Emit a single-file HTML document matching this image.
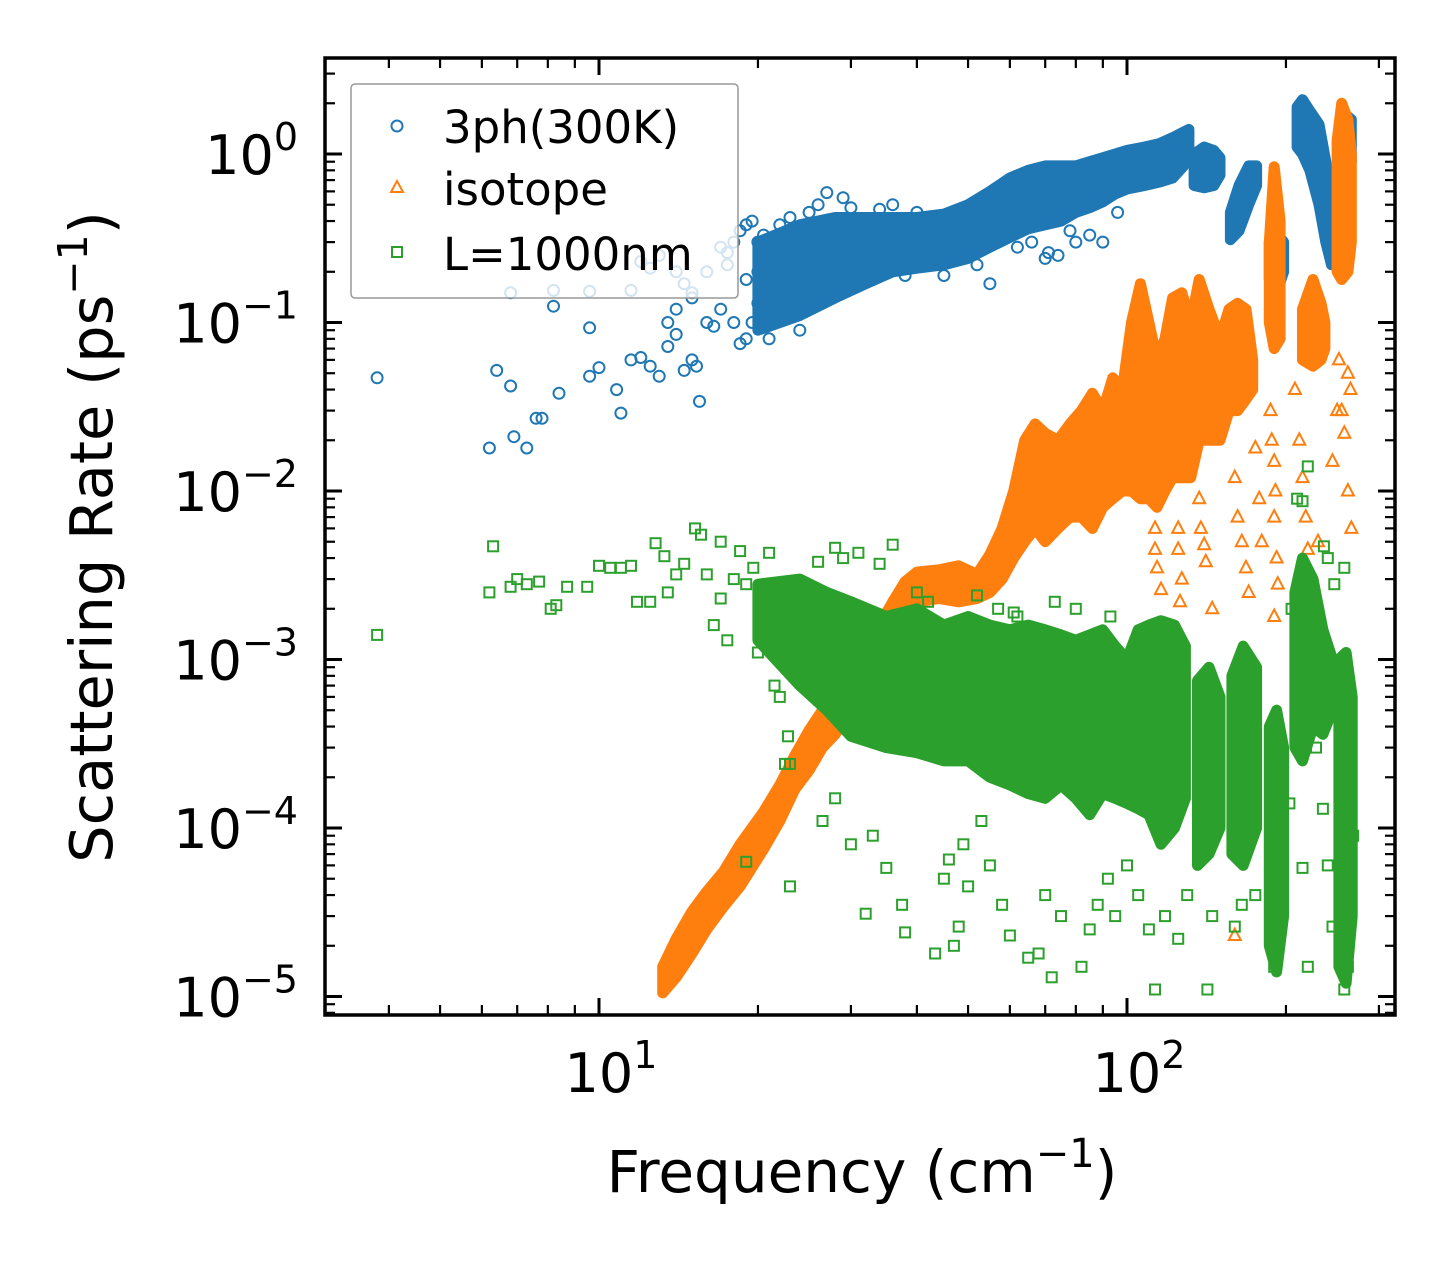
<!DOCTYPE html>
<html><head><meta charset="utf-8"><style>
html,body{margin:0;padding:0;background:#fff}
svg{display:block;font-family:"DejaVu Sans","Liberation Sans",sans-serif}
</style></head><body>
<svg id="chart" width="1455" height="1265" viewBox="0 0 1455 1265" xmlns="http://www.w3.org/2000/svg">
<defs><clipPath id="plotclip"><rect x="325" y="58" width="1070" height="957"/></clipPath></defs>
<rect x="0" y="0" width="1455" height="1265" fill="#fff"/>
<g id="series" clip-path="url(#plotclip)"></g>
<g id="axes"></g>
<g id="legend">
  <rect x="351" y="84" width="387" height="214" rx="4" fill="rgba(255,255,255,0.8)" stroke="#999" stroke-width="1.5"/>
  <circle cx="397" cy="126" r="5.5" fill="none" stroke="#1f77b4" stroke-width="2"/>
  <text x="443" y="143" font-size="45">3ph(300K)</text>
  <polygon points="397,181 403,192 391,192" fill="none" stroke="#ff7f0e" stroke-width="2"/>
  <text x="443" y="205" font-size="45">isotope</text>
  <rect x="392" y="247" width="10" height="10" fill="none" stroke="#2ca02c" stroke-width="2"/>
  <text x="443" y="270" font-size="45">L=1000nm</text>
</g>
<text x="862" y="1192" font-size="58" text-anchor="middle">Frequency (cm<tspan font-size="40" dy="-25">−1</tspan><tspan dy="25">)</tspan></text>
<text transform="translate(112,537) rotate(-90)" font-size="59" text-anchor="middle">Scattering Rate (ps<tspan font-size="41" dy="-25">−1</tspan><tspan dy="25">)</tspan></text>
<script>
// ---- data ----
const blueF = [3.8,6.2,6.4,6.8,6.9,7.3,7.6,7.8,8.4,8.2,9.6,9.6,10,10.8,11,11.5,12,12.5,13,13.5,14,14.5,15,15.3,15.5,
  6.8,8.2,9.6,11.5,12,12.5,13,14,14.5,15,16,17,17.5,
  13.5,14,15,16,16.5,17,18,18.5,19,19.5,17.5,18,18.5,19,19.5,20,20,19,20,
  27,30,36,40,45,38,33,52,55,70,71,74,80,85,90,23,22,20.5,25,26,21,24,29,34,62,66,78,96];
const blueR = [0.047,0.018,0.052,0.042,0.021,0.018,0.027,0.027,0.038,0.125,0.093,0.048,0.054,0.04,0.029,0.06,0.062,0.055,0.048,0.072,0.085,0.052,0.06,0.055,0.034,
  0.15,0.155,0.153,0.155,0.23,0.21,0.25,0.2,0.17,0.15,0.2,0.28,0.22,
  0.1,0.12,0.14,0.1,0.095,0.12,0.1,0.075,0.08,0.1,0.26,0.3,0.35,0.38,0.4,0.3,0.2,0.18,0.13,
  0.59,0.48,0.5,0.45,0.19,0.19,0.18,0.22,0.17,0.24,0.26,0.25,0.3,0.33,0.3,0.42,0.38,0.33,0.45,0.5,0.08,0.09,0.55,0.47,0.28,0.3,0.35,0.45];
const blueBandF  = [[20,24,28,32,36,40,45,50,55,60,65,70,75,80,85,90,95,100,108,115,122,128,131],[134,140,146,150],[157,163,170,176],[186,192,198],[210,215,222,231,238,244],[260,266]];
const blueBandLo = [[0.09,0.11,0.14,0.17,0.2,0.21,0.22,0.24,0.28,0.32,0.36,0.38,0.4,0.45,0.48,0.52,0.58,0.62,0.65,0.68,0.72,0.85,1.0],[0.65,0.63,0.65,0.75],[0.31,0.35,0.5,0.65],[0.18,0.15,0.2],[1.1,1.0,0.8,0.5,0.3,0.22],[0.9,0.9]];
const blueBandHi = [[0.3,0.38,0.42,0.42,0.42,0.42,0.44,0.5,0.6,0.72,0.8,0.85,0.85,0.85,0.9,0.95,1.0,1.05,1.1,1.15,1.25,1.35,1.4],[1.0,1.1,1.05,0.95],[0.45,0.65,0.85,0.85],[0.3,0.34,0.3],[1.9,2.1,1.8,1.5,0.9,0.5],[1.7,1.6]];

const orangeF = [113,113,114,116,125,125,127,126,137,138,140,141,145,160,162,165,168,170,175,178,180,187,188,190,191,190,192,193,190,194,160,208,212,215,218,220,222,225,228,230,245,250,252,255,258,262,266,265,262,18.3];
const orangeR = [6e-3,4.5e-3,3.5e-3,2.6e-3,6e-3,4.5e-3,3e-3,2.2e-3,9e-3,6e-3,4.8e-3,3.8e-3,2e-3,0.012,0.007,0.005,3.5e-3,2.5e-3,0.018,0.009,5e-3,0.03,0.02,0.015,0.01,7e-3,4e-3,2.8e-3,1.8e-3,4e-4,2.3e-5,0.04,0.02,0.012,0.007,4.5e-3,3e-3,2e-3,1.3e-3,5e-3,0.015,0.03,0.06,0.03,0.022,0.01,0.006,0.04,0.05,6.3e-5];
const orangeBandF  = [[13.2,14,15,16,17.2,18.5,20.5,22,23.5,25,26.5,28,30,32,34,36,38,40,44,48,52,55,58,61,64,67,70,74,78,82,86,90,94,98,102,106,110,114,118,122,127,132,137,143,150,156,162,168,173],[186,190,195],[215,225,233,237],[250,255,262,266]];
const orangeBandLo = [[1.05e-5,1.3e-5,1.8e-5,2.5e-5,3.4e-5,4.5e-5,7.5e-5,1.1e-4,1.7e-4,2.2e-4,3e-4,3.6e-4,5e-4,7e-4,1e-3,1.3e-3,1.8e-3,2.2e-3,2.3e-3,2.2e-3,2.3e-3,2.5e-3,3e-3,4e-3,5e-3,6e-3,5e-3,6e-3,7e-3,7e-3,6e-3,8e-3,9e-3,0.01,0.01,0.009,0.009,0.008,0.01,0.012,0.012,0.012,0.02,0.02,0.02,0.03,0.03,0.035,0.04],[0.1,0.07,0.08],[0.06,0.055,0.06,0.07],[0.2,0.18,0.2,0.3]];
const orangeBandHi = [[1.5e-5,2.2e-5,3.2e-5,4.2e-5,5.5e-5,8e-5,1.25e-4,1.8e-4,2.7e-4,3.8e-4,5e-4,6.5e-4,9e-4,1.2e-3,1.6e-3,2.2e-3,2.9e-3,3.3e-3,3.4e-3,3.6e-3,3.2e-3,4.2e-3,6e-3,0.01,0.02,0.025,0.022,0.02,0.025,0.03,0.038,0.03,0.047,0.04,0.1,0.17,0.1,0.06,0.08,0.14,0.15,0.1,0.18,0.12,0.08,0.12,0.13,0.12,0.06],[0.3,0.84,0.4],[0.12,0.18,0.13,0.1],[1.2,2.0,1.6,1.0]];

const greenF = [3.8,6.2,6.3,6.8,7,7.3,7.7,8.1,8.3,8.7,9.5,10,10.5,11,11.5,11.8,12.5,12.8,13.3,13.5,14,14.5,15.2,15.6,16,16.5,17,17,17.5,18,18.5,19,19.6,20,20.5,21,21.5,22,22.8,23,24,
  19,22.5,23,26.5,28,30,32,33,35,37.5,38,43.3,45,46,47,48,49,50,53,55,58,60,65,68,70,72,75,82,85,88,92,95,100,105,110,113,118,125,130,142,145,160,165,175,190,215,220,240,245,258,262,268,235,228,203,205,210,215,220,236,240,247,258,
  40,42,52,57,61,73,80,93,62,26,28,31,34,36,29];
const greenR = [1.4e-3,2.5e-3,4.7e-3,2.7e-3,3e-3,2.8e-3,2.9e-3,2e-3,2.1e-3,2.7e-3,2.7e-3,3.6e-3,3.5e-3,3.5e-3,3.6e-3,2.2e-3,2.2e-3,4.9e-3,4.1e-3,2.5e-3,3.2e-3,3.7e-3,6e-3,5.5e-3,3.2e-3,1.6e-3,5e-3,2.3e-3,1.3e-3,3e-3,4.4e-3,2.8e-3,3.5e-3,1.1e-3,1.4e-3,4.3e-3,7e-4,6e-4,3.5e-4,2.4e-4,8e-4,
  6.3e-5,2.4e-4,4.5e-5,1.1e-4,1.5e-4,8e-5,3.1e-5,9e-5,5.8e-5,3.5e-5,2.4e-5,1.8e-5,5e-5,6.5e-5,2e-5,2.6e-5,8e-5,4.5e-5,1.1e-4,6e-5,3.5e-5,2.3e-5,1.7e-5,1.8e-5,4e-5,1.3e-5,3e-5,1.5e-5,2.5e-5,3.5e-5,5e-5,3e-5,6e-5,4e-5,2.5e-5,1.1e-5,3e-5,2.2e-5,4e-5,1.1e-5,3e-5,2.6e-5,3.5e-5,4e-5,1.5e-5,5.8e-5,1.5e-5,6e-5,2.6e-5,1.1e-5,1.5e-5,9e-5,1.3e-4,3e-4,1.4e-4,2e-3,9e-3,8.7e-3,1.4e-2,4.7e-3,4e-3,2.8e-3,3.5e-3,
  2.5e-3,2.2e-3,2.4e-3,2e-3,1.9e-3,2.2e-3,2e-3,1.8e-3,1.8e-3,3.8e-3,4.6e-3,4.3e-3,3.7e-3,4.8e-3,4e-3];
const greenBandF  = [[20,24,27,30,35,40,45,50,55,60,65,70,75,80,85,90,95,100,105,110,116,123,129],[136,143,150],[158,166,176],[186,192,198],[208,215,225,235,245],[252,260,267]];
const greenBandLo = [[1.3e-3,7e-4,5e-4,3.5e-4,3e-4,2.8e-4,2.5e-4,2.5e-4,2e-4,1.8e-4,1.6e-4,1.5e-4,1.8e-4,1.5e-4,1.2e-4,1.6e-4,1.5e-4,1.4e-4,1.3e-4,1.2e-4,8e-5,1e-4,1.5e-4],[6e-5,7e-5,1e-4],[7e-5,6e-5,1e-4],[2e-5,1.4e-5,3e-5],[3e-4,2.5e-4,4e-4,3.6e-4,5e-4],[1.5e-5,1.2e-5,3e-5]];
const greenBandHi = [[2.8e-3,3e-3,2.5e-3,2.2e-3,1.8e-3,2e-3,1.6e-3,1.8e-3,1.6e-3,1.5e-3,1.6e-3,1.5e-3,1.4e-3,1.3e-3,1.4e-3,1.5e-3,1.2e-3,1.0e-3,1.5e-3,1.6e-3,1.7e-3,1.6e-3,1.2e-3],[7.5e-4,9e-4,6e-4],[8e-4,1.2e-3,9e-4],[4e-4,5e-4,3e-4],[2.5e-3,4e-3,3e-3,1.5e-3,1e-3],[1e-3,1.1e-3,6e-4]];

const yTickExp = [0,-1,-2,-3,-4,-5];
const xTickExp = [1,2];

// ---- scales ----
function X(f){ return 599 + 528*(Math.log10(f) - 1); }
function Y(r){ return 154 - 168.5*Math.log10(r); }
const NS = 'http://www.w3.org/2000/svg';
function mk(tag, attrs, parent){ const e=document.createElementNS(NS,tag); for(const k in attrs) e.setAttribute(k, attrs[k]); parent.appendChild(e); return e; }
const gS = document.getElementById('series');
const gA = document.getElementById('axes');

function ribbons(F, LO, HI, color, name){
  F.forEach((fs, j)=>{
    const up = fs.map((f,i)=>X(f).toFixed(1)+','+Y(HI[j][i]).toFixed(1));
    const dn = fs.map((f,i)=>X(f).toFixed(1)+','+Y(LO[j][i]).toFixed(1)).reverse();
    const p = mk('polygon', {points: up.concat(dn).join(' '), fill: color, stroke: color, 'stroke-width': 11, 'stroke-linejoin': 'round'}, gS);
    
    
  });
}
function circles(F, R, color){
  F.forEach((f,i)=>{
    const c = mk('circle', {cx: X(f).toFixed(1), cy: Y(R[i]).toFixed(1), r: 5.5, fill: 'none', stroke: color, 'stroke-width': 2}, gS);
    
    
  });
}
function triangles(F, R, color){
  F.forEach((f,i)=>{
    const x = X(f), y = Y(R[i]);
    const t = mk('polygon', {points: `${x},${y-7} ${x+6},${y+4.5} ${x-6},${y+4.5}`, fill: 'none', stroke: color, 'stroke-width': 2}, gS);
    
    
  });
}
function squares(F, R, color){
  F.forEach((f,i)=>{
    const s = mk('rect', {x: (X(f)-5).toFixed(1), y: (Y(R[i])-5).toFixed(1), width: 10, height: 10, fill: 'none', stroke: color, 'stroke-width': 2}, gS);
    
    
  });
}
ribbons(blueBandF, blueBandLo, blueBandHi, '#1f77b4', '3ph');
circles(blueF, blueR, '#1f77b4');
ribbons(orangeBandF, orangeBandLo, orangeBandHi, '#ff7f0e', 'isotope');
triangles(orangeF, orangeR, '#ff7f0e');
ribbons(greenBandF, greenBandLo, greenBandHi, '#2ca02c', 'boundary');
squares(greenF, greenR, '#2ca02c');

// ---- axes ----
const L=325, R=1395, T=58, B=1015;
const frame = mk('rect', {x: L, y: T, width: R-L, height: B-T, fill: 'none', stroke: '#000', 'stroke-width': 3.5}, gA);


function tick(x1,y1,x2,y2,w,name){
  const l = mk('line', {x1, y1, x2, y2, stroke: '#000', 'stroke-width': w}, gA);
  
  
}
for(let e=-6; e<=1; e++){
  for(let m=1; m<10; m++){
    const v = m*Math.pow(10,e); const y = Y(v);
    if(y < T+1 || y > B-1) continue;
    const len = m===1 ? 17 : 10, w = m===1 ? 3 : 2.2;
    tick(L, y, L+len, y, w, m===1 ? 'y-major-tick' : 'y-minor-tick');
    tick(R, y, R-len, y, w, m===1 ? 'y-major-tick' : 'y-minor-tick');
  }
}
for(let e=0; e<=2; e++){
  for(let m=1; m<10; m++){
    const v = m*Math.pow(10,e); const x = X(v);
    if(x < L+1 || x > R-1) continue;
    const len = m===1 ? 17 : 10, w = m===1 ? 3 : 2.2;
    tick(x, B, x, B-len, w, m===1 ? 'x-major-tick' : 'x-minor-tick');
    tick(x, T, x, T+len, w, m===1 ? 'x-major-tick' : 'x-minor-tick');
  }
}
function powLabel(x, y, anchor, exp, name){
  const t = mk('text', {x: x, y: y, 'font-size': 54, 'text-anchor': anchor}, gA);
  
  
  t.appendChild(document.createTextNode('10'));
  const s = mk('tspan', {'font-size': 38, dy: -24}, t);
  s.textContent = exp < 0 ? '−' + (-exp) : String(exp);
}
yTickExp.forEach(e=>{
  powLabel(298, Y(Math.pow(10,e)) + 20, 'end', e, 'y-tick-label');
});
xTickExp.forEach(e=>{
  powLabel(X(Math.pow(10,e)) + 12, 1092, 'middle', e, 'x-tick-label');
});
</script>
</svg>
</body></html>
